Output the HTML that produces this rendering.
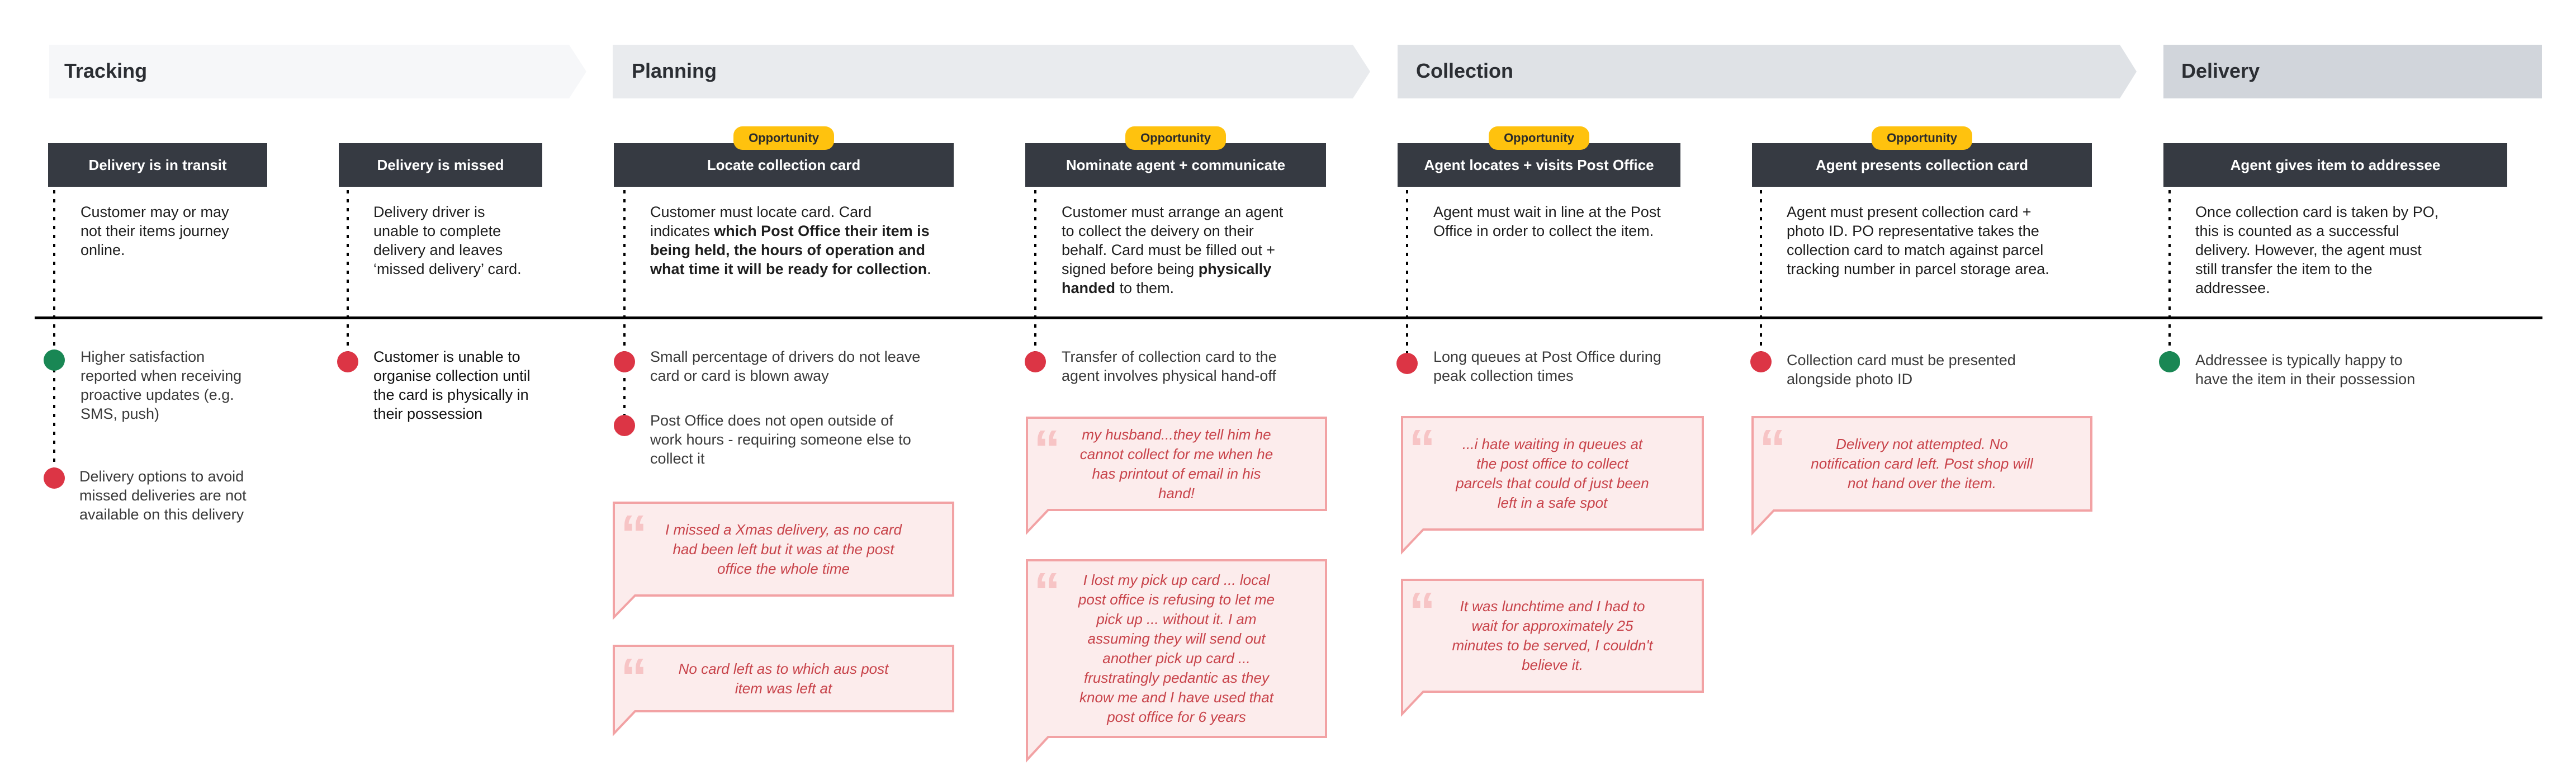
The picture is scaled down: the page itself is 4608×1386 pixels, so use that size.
<!DOCTYPE html>
<html><head><meta charset="utf-8"><style>
*{margin:0;padding:0;box-sizing:border-box}
body{width:4608px;height:1386px;background:#fff;position:relative;overflow:hidden;font-family:"Liberation Sans",sans-serif}
.t{position:absolute;white-space:nowrap}
.bn{font-size:36px;font-weight:700;color:#2b2e33;top:106px}
.hd{color:#fff;font-weight:700;font-size:26px;text-align:center;top:280px;line-height:30px}
.op{font-size:22px;font-weight:700;color:#2b2b2b;text-align:center;top:234px;line-height:26px}
.ds{font-size:27px;line-height:34px;color:#1e1e1e;top:362px}
.bt{font-size:27px;line-height:34px;color:#3a3a3a}
.dk{color:#111}
.q{position:absolute;display:flex;align-items:center;justify-content:center;text-align:center;font-style:italic;font-size:26px;line-height:35px;color:#c8434a;white-space:nowrap}
.qm{position:absolute;font-family:"Liberation Sans",sans-serif;font-weight:700;font-size:96px;line-height:96px;color:#f7c4c5}
</style></head><body>
<svg width="4608" height="1386" style="position:absolute;left:0;top:0">
<polygon points="88,80 1018,80 1049,128 1018,176 88,176" fill="#f6f7f9"/>
<polygon points="1096,80 2420,80 2451,128 2420,176 1096,176" fill="#e9ebee"/>
<polygon points="2500,80 3792,80 3822,128 3792,176 2500,176" fill="#dfe2e6"/>
<rect x="3870" y="80" width="677" height="96" fill="#d1d5db"/>
<g fill="#363a42">
<rect x="86" y="256" width="392" height="78"/>
<rect x="606" y="256" width="364" height="78"/>
<rect x="1098" y="256" width="608" height="78"/>
<rect x="1834" y="256" width="538" height="78"/>
<rect x="2500" y="256" width="506" height="78"/>
<rect x="3134" y="256" width="608" height="78"/>
<rect x="3870" y="256" width="615" height="78"/>
</g>
<g fill="#ffc20e">
<rect x="1312" y="226" width="180" height="42" rx="16"/>
<rect x="2013" y="226" width="180" height="42" rx="16"/>
<rect x="2663" y="226" width="180" height="42" rx="16"/>
<rect x="3348" y="226" width="180" height="42" rx="16"/>
</g>
<rect x="62" y="566" width="4486" height="5" fill="#000"/>
<g stroke="#000" stroke-width="4" stroke-dasharray="6 10">
<line x1="97" y1="340" x2="97" y2="855"/>
<line x1="622" y1="340" x2="622" y2="647"/>
<line x1="1117" y1="340" x2="1117" y2="761"/>
<line x1="1852" y1="340" x2="1852" y2="647"/>
<line x1="2517" y1="340" x2="2517" y2="650"/>
<line x1="3150" y1="340" x2="3150" y2="647"/>
<line x1="3881" y1="340" x2="3881" y2="647"/>
</g>
<g fill="#dc3545">
<circle cx="97" cy="855" r="19"/>
<circle cx="622" cy="647" r="19"/>
<circle cx="1117" cy="647" r="19"/>
<circle cx="1117" cy="761" r="19"/>
<circle cx="1852" cy="647" r="19"/>
<circle cx="2517" cy="650" r="19"/>
<circle cx="3150" cy="647" r="19"/>
</g>
<g fill="#198754">
<circle cx="97" cy="644" r="19"/>
<circle cx="3881" cy="647" r="19"/>
</g>
<g fill="#fcecec" stroke="#f2a2a4" stroke-width="4">
<path d="M1098 899 H1705 V1065 H1136 L1098 1104 Z"/>
<path d="M1098 1155 H1705 V1272 H1136 L1098 1312 Z"/>
<path d="M1837 747 H2372 V912 H1875 L1837 952 Z"/>
<path d="M1837 1002 H2372 V1318 H1875 L1837 1359 Z"/>
<path d="M2508 746 H3046 V947 H2546 L2508 987 Z"/>
<path d="M2508 1037 H3046 V1237 H2546 L2508 1277 Z"/>
<path d="M3135 746 H3741 V913 H3173 L3135 953 Z"/>
</g>
</svg>

<div class="t bn" style="left:115px">Tracking</div>
<div class="t bn" style="left:1130px">Planning</div>
<div class="t bn" style="left:2533px">Collection</div>
<div class="t bn" style="left:3902px">Delivery</div>

<div class="t hd" style="left:86px;width:392px">Delivery is in transit</div>
<div class="t hd" style="left:606px;width:364px">Delivery is missed</div>
<div class="t hd" style="left:1098px;width:608px">Locate collection card</div>
<div class="t hd" style="left:1834px;width:538px">Nominate agent + communicate</div>
<div class="t hd" style="left:2500px;width:506px">Agent locates + visits Post Office</div>
<div class="t hd" style="left:3134px;width:608px">Agent presents collection card</div>
<div class="t hd" style="left:3870px;width:615px">Agent gives item to addressee</div>

<div class="t op" style="left:1312px;width:180px">Opportunity</div>
<div class="t op" style="left:2013px;width:180px">Opportunity</div>
<div class="t op" style="left:2663px;width:180px">Opportunity</div>
<div class="t op" style="left:3348px;width:180px">Opportunity</div>

<div class="t ds" style="left:144px">Customer may or may<br>not their items journey<br>online.</div>
<div class="t ds" style="left:668px">Delivery driver is<br>unable to complete<br>delivery and leaves<br>‘missed delivery’ card.</div>
<div class="t ds" style="left:1163px">Customer must locate card. Card<br>indicates <b>which Post Office their item is<br>being held, the hours of operation and<br>what time it will be ready for collection</b>.</div>
<div class="t ds" style="left:1899px">Customer must arrange an agent<br>to collect the deivery on their<br>behalf. Card must be filled out +<br>signed before being <b>physically<br>handed</b> to them.</div>
<div class="t ds" style="left:2564px">Agent must wait in line at the Post<br>Office in order to collect the item.</div>
<div class="t ds" style="left:3196px">Agent must present collection card +<br>photo ID. PO representative takes the<br>collection card to match against parcel<br>tracking number in parcel storage area.</div>
<div class="t ds" style="left:3927px">Once collection card is taken by PO,<br>this is counted as a successful<br>delivery. However, the agent must<br>still transfer the item to the<br>addressee.</div>

<div class="t bt" style="left:144px;top:621px">Higher satisfaction<br>reported when receiving<br>proactive updates (e.g.<br>SMS, push)</div>
<div class="t bt" style="left:142px;top:835px">Delivery options to avoid<br>missed deliveries are not<br>available on this delivery</div>
<div class="t bt dk" style="left:668px;top:621px">Customer is unable to<br>organise collection until<br>the card is physically in<br>their possession</div>
<div class="t bt" style="left:1163px;top:621px">Small percentage of drivers do not leave<br>card or card is blown away</div>
<div class="t bt" style="left:1163px;top:735px">Post Office does not open outside of<br>work hours - requiring someone else to<br>collect it</div>
<div class="t bt" style="left:1899px;top:621px">Transfer of collection card to the<br>agent involves physical hand-off</div>
<div class="t bt" style="left:2564px;top:621px">Long queues at Post Office during<br>peak collection times</div>
<div class="t bt" style="left:3196px;top:627px">Collection card must be presented<br>alongside photo ID</div>
<div class="t bt" style="left:3927px;top:627px">Addressee is typically happy to<br>have the item in their possession</div>

<div class="qm" style="left:1110px;top:908px">“</div>
<div class="q" style="left:1098px;top:899px;width:607px;height:166px">I missed a Xmas delivery, as no card<br>had been left but it was at the post<br>office the whole time</div>
<div class="qm" style="left:1110px;top:1164px">“</div>
<div class="q" style="left:1098px;top:1155px;width:607px;height:117px">No card left as to which aus post<br>item was left at</div>
<div class="qm" style="left:1849px;top:756px">“</div>
<div class="q" style="left:1837px;top:747px;width:535px;height:165px">my husband...they tell him he<br>cannot collect for me when he<br>has printout of email in his<br>hand!</div>
<div class="qm" style="left:1849px;top:1011px">“</div>
<div class="q" style="left:1837px;top:1002px;width:535px;height:316px">I lost my pick up card ... local<br>post office is refusing to let me<br>pick up ... without it. I am<br>assuming they will send out<br>another pick up card ...<br>frustratingly pedantic as they<br>know me and I have used that<br>post office for 6 years</div>
<div class="qm" style="left:2520px;top:755px">“</div>
<div class="q" style="left:2508px;top:746px;width:538px;height:201px">...i hate waiting in queues at<br>the post office to collect<br>parcels that could of just been<br>left in a safe spot</div>
<div class="qm" style="left:2520px;top:1046px">“</div>
<div class="q" style="left:2508px;top:1037px;width:538px;height:200px">It was lunchtime and I had to<br>wait for approximately 25<br>minutes to be served, I couldn't<br>believe it.</div>
<div class="qm" style="left:3147px;top:755px">“</div>
<div class="q" style="left:3135px;top:746px;width:606px;height:167px">Delivery not attempted. No<br>notification card left. Post shop will<br>not hand over the item.</div>
</body></html>
